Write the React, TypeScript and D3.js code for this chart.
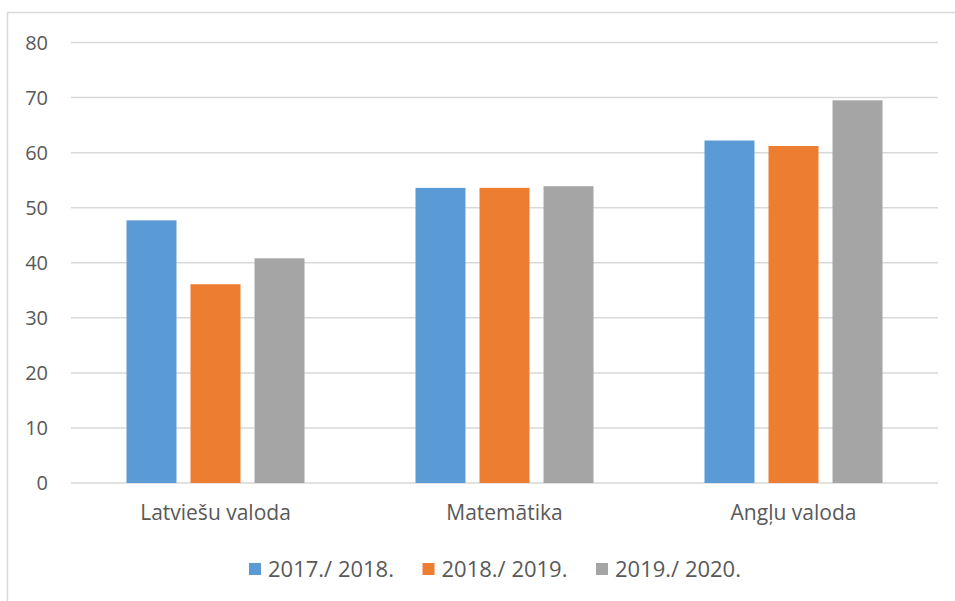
import { useEffect, useRef } from 'react';
import * as d3 from 'd3';

const categories = ['Latviešu valoda', 'Matemātika', 'Angļu valoda'];
const seriesNames = ['2017./ 2018.', '2018./ 2019.', '2019./ 2020.'];
const seriesColors = ['#5b9bd5', '#ed7d31', '#a5a5a5'];
const values2017 = [47.7, 53.6, 62.2];
const values2018 = [36.1, 53.6, 61.2];
const values2019 = [40.8, 53.9, 69.5];
const yTicks = [0, 10, 20, 30, 40, 50, 60, 70, 80];

const W = 955;
const H = 601;
const FONT = '"Open Sans", sans-serif';
const TEXT = '#595959';

export default function App() {
  const svgRef = useRef<SVGSVGElement>(null);

  useEffect(() => {
    if (!svgRef.current) return;
    const svg = d3.select(svgRef.current);
    svg.selectAll('*').remove();

    const series = [values2017, values2018, values2019];

    const x = d3.scaleBand<string>().domain(categories).range([71, 938]);
    const xInner = d3
      .scaleBand<number>()
      .domain(d3.range(seriesNames.length))
      .range([0, x.bandwidth()])
      .paddingInner(0.219)
      .paddingOuter(0.867);
    const y = d3.scaleLinear().domain([0, 80]).range([483, 42.5]);

    // chart border
    svg
      .append('rect')
      .attr('x', 7.5)
      .attr('y', 12.5)
      .attr('width', 960)
      .attr('height', 620)
      .attr('fill', '#fff')
      .attr('stroke', '#d9d9d9')
      .attr('stroke-width', 1.5);

    // gridlines
    svg
      .append('g')
      .selectAll('line')
      .data(yTicks)
      .enter()
      .append('line')
      .attr('x1', 71)
      .attr('x2', 938)
      .attr('y1', (d) => y(d))
      .attr('y2', (d) => y(d))
      .attr('stroke', '#d9d9d9')
      .attr('stroke-width', 1.5);

    // y tick labels
    svg
      .append('g')
      .selectAll('text')
      .data(yTicks)
      .enter()
      .append('text')
      .attr('x', 48)
      .attr('y', (d) => y(d))
      .attr('dy', '0.35em')
      .attr('text-anchor', 'end')
      .style('font-family', FONT)
      .style('font-size', '20px')
      .style('fill', TEXT)
      .text((d) => d);

    // bars
    const groups = svg
      .append('g')
      .selectAll('g')
      .data(categories)
      .enter()
      .append('g')
      .attr('transform', (d) => `translate(${x(d)},0)`);

    groups
      .selectAll('rect')
      .data((_d, ci) => series.map((s, si) => ({ si, v: s[ci] })))
      .enter()
      .append('rect')
      .attr('x', (d) => xInner(d.si)!)
      .attr('width', xInner.bandwidth())
      .attr('y', (d) => y(d.v))
      .attr('height', (d) => y(0) - y(d.v))
      .attr('fill', (d) => seriesColors[d.si]);

    // category labels
    svg
      .append('g')
      .selectAll('text')
      .data(categories)
      .enter()
      .append('text')
      .attr('x', (d) => x(d)! + x.bandwidth() / 2)
      .attr('y', 520)
      .attr('text-anchor', 'middle')
      .style('font-family', FONT)
      .style('font-size', '21px')
      .style('fill', TEXT)
      .text((d) => d);

    // legend
    const legend = svg
      .append('g')
      .selectAll('g')
      .data(seriesNames)
      .enter()
      .append('g')
      .attr('transform', (_d, i) => `translate(${249 + i * 173.5},569)`);

    legend
      .append('rect')
      .attr('x', 0)
      .attr('y', -6)
      .attr('width', 12)
      .attr('height', 12)
      .attr('fill', (_d, i) => seriesColors[i]);

    legend
      .append('text')
      .attr('x', 19)
      .attr('y', 0)
      .attr('dy', '0.35em')
      .style('font-family', FONT)
      .style('font-size', '22px')
      .style('fill', TEXT)
      .text((d) => d);
  }, []);

  return (
    <svg
      ref={svgRef}
      width={W}
      height={H}
      style={{ position: 'absolute', left: 0, top: 0, background: '#fff' }}
    />
  );
}
